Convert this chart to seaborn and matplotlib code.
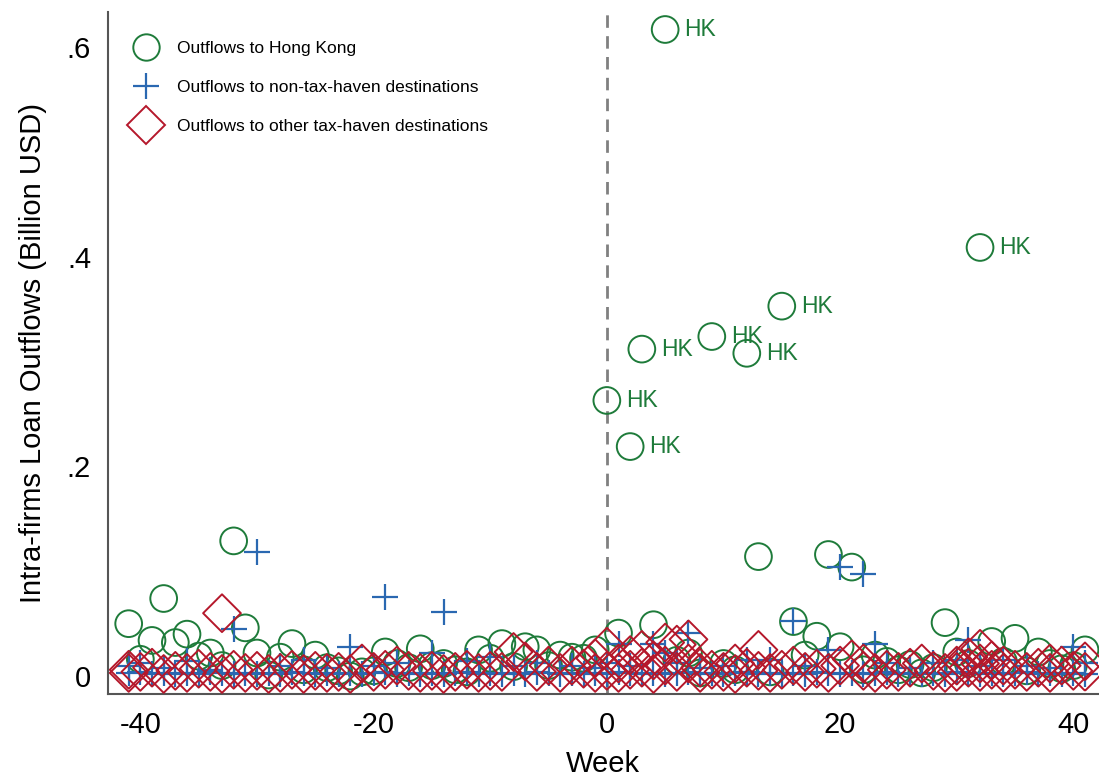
import matplotlib
matplotlib.use("Agg")
import matplotlib.pyplot as plt
from matplotlib.lines import Line2D
import seaborn as sns
import pandas as pd

# colours
green = "#1E7B3A"
blue = "#2A68B1"
red = "#B5182B"

# Outflows to Hong Kong (week, billion USD)
hk_week = [5, 32, 15, 9, 3, 12, 0, 2,
           -32, -38, -41, -31, 13, 19, 21, 16, 29, 4, 1,
           -39, -37, -36, -40, -35, -34, -33, -30, -29, -28, -27, -26, -25,
           -24, -23, -22, -21, -20, -19, -18, -17, -16, -15, -14, -13, -12,
           -11, -10, -9, -8, -7, -6, -5, -4, -3, -2, -1,
           6, 7, 8, 10, 11, 14, 17, 18, 20, 22, 23, 24, 25, 26, 27, 28,
           30, 31, 33, 34, 35, 36, 37, 38, 39, 40, 41]
hk_value = [0.617, 0.409, 0.353, 0.324, 0.312, 0.308, 0.263, 0.219,
            0.129, 0.074, 0.050, 0.046, 0.114, 0.116, 0.104, 0.052, 0.051, 0.049, 0.041,
            0.034, 0.032, 0.040, 0.016, 0.019, 0.022, 0.010, 0.022, 0.001, 0.018, 0.031, 0.006, 0.020,
            0.008, 0.005, 0.000, 0.004, 0.005, 0.023, 0.012, 0.008, 0.026, 0.010, 0.012, 0.006, 0.004,
            0.025, 0.017, 0.031, 0.009, 0.028, 0.025, 0.010, 0.020, 0.018, 0.017, 0.025,
            0.015, 0.022, 0.003, 0.012, 0.006, 0.004, 0.020, 0.038, 0.028, 0.006, 0.020, 0.014, 0.006,
            0.011, 0.003, 0.008,
            0.023, 0.012, 0.033, 0.014, 0.036, 0.005, 0.023, 0.012, 0.007, 0.010, 0.025]
hk_labelled = [5, 32, 15, 9, 3, 12, 0, 2]

# Outflows to non-tax-haven destinations
nth_week = list(range(-41, 42)) + [
    -41, -40, -38, -36, -34, -32, -30, -28, -26, -24, -22, -20, -19, -18,
    -15, -14, -12, -10, -8, -6, -3, -1, 0, 1, 2, 4, 5, 6, 7, 8, 10, 12, 14,
    16, 17, 19, 20, 22, 23, 24, 26, 28, 30, 31, 32, 34, 36, 38, 40, 41]
nth_value = [
    0.003, 0.004, 0.002, 0.003, 0.002, 0.003, 0.002, 0.004, 0.003, 0.002,
    0.003, 0.002, 0.003, 0.002, 0.004, 0.003, 0.002, 0.003, 0.002, 0.003,
    0.002, 0.003, 0.004, 0.002, 0.003, 0.002, 0.003, 0.002, 0.003, 0.004,
    0.002, 0.003, 0.002, 0.003, 0.002, 0.004, 0.003, 0.002, 0.003, 0.002,
    0.003, 0.002, 0.004, 0.003, 0.002, 0.003, 0.002, 0.003, 0.004, 0.002,
    0.003, 0.002, 0.003, 0.004, 0.002, 0.003, 0.002, 0.003, 0.002, 0.004,
    0.003, 0.002, 0.003, 0.002, 0.003, 0.004, 0.002, 0.003, 0.002, 0.003,
    0.002, 0.004, 0.003, 0.002, 0.003, 0.002, 0.003, 0.004, 0.002, 0.003,
    0.002, 0.003, 0.002,
    0.010, 0.012, 0.008, 0.014, 0.006, 0.045, 0.118, 0.010, 0.015, 0.008,
    0.028, 0.010, 0.075, 0.012, 0.022, 0.061, 0.014, 0.018, 0.010, 0.012,
    0.010, 0.008, 0.012, 0.031, 0.010, 0.031, 0.022, 0.012, 0.041, 0.008,
    0.010, 0.015, 0.015, 0.053, 0.010, 0.025, 0.104, 0.097, 0.031, 0.012,
    0.008, 0.012, 0.015, 0.034, 0.010, 0.015, 0.010, 0.008, 0.028, 0.012]

# Outflows to other tax-haven destinations
oth_week = [-41, -41, -40, -39, -38, -37, -36, -35, -34, -33, -33, -32, -31, -30,
            -29, -28, -27, -26, -25, -24, -23, -22, -21, -20, -19, -18, -17, -16,
            -15, -14, -13, -12, -11, -10, -9, -8, -7, -6, -5, -4, -3, -2, -1, -1,
            0, 0, 1, 1, 2, 2, 3, 3, 4, 4, 5, 5, 6, 6, 7, 7, 8, 8, 9, 10, 11, 11,
            12, 13, 13, 14, 15, 16, 17, 18, 19, 20, 21, 22, 22, 23, 24, 25, 26,
            27, 28, 29, 30, 30, 31, 31, 32, 32, 32, 33, 33, 34, 34, 35, 36, 37,
            38, 38, 39, 40, 41, 41]
oth_value = [0.006, 0.003, 0.004, 0.008, 0.002, 0.005, 0.003, 0.007, 0.004, 0.060, 0.002,
             0.006, 0.003, 0.005, 0.002, 0.003, 0.006, 0.002, 0.005, 0.003, 0.004, 0.002,
             0.012, 0.004, 0.006, 0.010, 0.005, 0.003, 0.005, 0.002, 0.004, 0.006, 0.003,
             0.005, 0.004, 0.023, 0.014, 0.004, 0.010, 0.003, 0.010, 0.007, 0.017, 0.003,
             0.028, 0.005, 0.012, 0.003, 0.020, 0.006, 0.025, 0.008, 0.015, 0.002, 0.032,
             0.010, 0.030, 0.004, 0.035, 0.012, 0.008, 0.003, 0.006, 0.004, 0.012, 0.002,
             0.008, 0.025, 0.005, 0.003, 0.006, 0.010, 0.004, 0.007, 0.003, 0.010, 0.016,
             0.012, 0.005, 0.003, 0.006, 0.004, 0.008, 0.012, 0.005, 0.003, 0.010, 0.004,
             0.018, 0.008, 0.026, 0.012, 0.004, 0.015, 0.006, 0.010, 0.003, 0.006, 0.004,
             0.008, 0.012, 0.003, 0.010, 0.005, 0.014, 0.004]

xticks = [-40, -20, 0, 20, 40]
yticks = [0, 0.2, 0.4, 0.6]
ytick_labels = ["0", ".2", ".4", ".6"]

hk = pd.DataFrame({"week": hk_week, "value": hk_value})
nth = pd.DataFrame({"week": nth_week, "value": nth_value})
oth = pd.DataFrame({"week": oth_week, "value": oth_value})

sns.set_style("white")
plt.rcParams["font.family"] = ["Liberation Sans", "DejaVu Sans"]
plt.rcParams["axes.unicode_minus"] = False
plt.rcParams["text.color"] = "black"
plt.rcParams["axes.labelcolor"] = "black"
plt.rcParams["xtick.color"] = "black"
plt.rcParams["ytick.color"] = "black"

fig, ax = plt.subplots(figsize=(10.99, 7.79), dpi=100)
fig.subplots_adjust(left=0.098, right=1.0, bottom=0.109, top=0.985)

ax.axvline(0, color="#808080", lw=2, linestyle=(0, (4.5, 3)), zorder=1)

sns.scatterplot(data=hk, x="week", y="value", marker="o", s=370,
                facecolor="none", edgecolor=green, linewidth=1.4, ax=ax, zorder=2)
sns.scatterplot(data=nth, x="week", y="value", marker="+", s=370,
                color=blue, linewidth=1.6, ax=ax, zorder=3)
sns.scatterplot(data=oth, x="week", y="value", marker="D", s=370,
                facecolor="none", edgecolor=red, linewidth=1.4, ax=ax, zorder=4)

for w, v in zip(hk_week, hk_value):
    if w in hk_labelled and v > 0.2:
        ax.annotate("HK", (w, v), xytext=(14, 0), textcoords="offset points",
                    va="center", ha="left", color=green, fontsize=16.5)

ax.set_xlim(-42.8, 42.2)
ax.set_ylim(-0.0172, 0.634)
ax.set_xticks(xticks)
ax.set_yticks(yticks)
ax.set_yticklabels(ytick_labels)
ax.tick_params(axis="both", length=0, labelsize=21, pad=12)
ax.set_xlabel("Week", fontsize=21, labelpad=8)
ax.set_ylabel("Intra-firms Loan Outflows (Billion USD)", fontsize=21, labelpad=14)

for side in ["top", "right"]:
    ax.spines[side].set_visible(False)
for side in ["left", "bottom"]:
    ax.spines[side].set_color("#555555")
    ax.spines[side].set_linewidth(1.5)

handles = [
    Line2D([], [], marker="o", ls="", ms=19, mfc="none", mec=green, mew=1.4),
    Line2D([], [], marker="+", ls="", ms=19, color=blue, mew=1.6),
    Line2D([], [], marker="D", ls="", ms=19, mfc="none", mec=red, mew=1.4),
]
labels = ["Outflows to Hong Kong", "Outflows to non-tax-haven destinations",
          "Outflows to other tax-haven destinations"]
ax.legend(handles, labels, loc="upper left", bbox_to_anchor=(0.009, 0.975),
          frameon=False, fontsize=12.5, labelspacing=1.36, handletextpad=0.8,
          borderaxespad=0.3)

fig.savefig("out.png", dpi=100)
